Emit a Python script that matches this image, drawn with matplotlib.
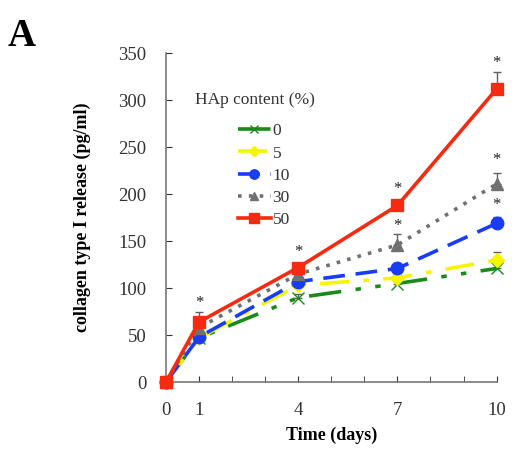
import matplotlib.pyplot as plt
from matplotlib.lines import Line2D

plt.rcParams['font.family'] = ['Liberation Serif', 'DejaVu Serif']

days = [0, 1, 4, 7, 10]
hap_labels = ["0", "5", "10", "30", "50"]

release_0 = [0, 47, 90, 105, 121]
release_5 = [0, 47, 103, 111, 130]
release_10 = [0, 48, 107, 121, 169]
release_30 = [0, 58, 115, 146, 211]
release_50 = [0, 64, 122, 188, 312]

err_0 = [0, 3, 4, 3, 4]
err_5 = [0, 3, 4, 4, 8]
err_10 = [0, 3, 4, 5, 7]
err_30 = [0, 5, 4, 12, 12]
err_50 = [0, 11, 4, 4, 18]

# significance marks: (day, height)
star_days = [1, 4, 7, 7, 10, 10, 10]
star_heights = [84, 139, 206, 166, 340, 236, 189]

series = [release_0, release_5, release_10, release_30, release_50]
errors = [err_0, err_5, err_10, err_30, err_50]
colors = ["#1a8a1a", "#f5f500", "#1a3cf5", "#707070", "#f52a10"]
markers = ["x", "D", "o", "^", "s"]
msizes = [8, 7, 9, 8, 9]
styles = [(0, (9, 4, 1.5, 4, 1.5, 4)), (0, (8, 4, 1.5, 4)), (0, (6, 3)),
          (0, (1, 2)), "-"]

fig = plt.figure(figsize=(5.12, 4.55), dpi=100)
ax = fig.add_axes([0.324, 0.160, 0.646, 0.723])

handles = []
for vals, err, c, m, ms, ls, lab in zip(series, errors, colors, markers,
                                        msizes, styles, hap_labels):
    ax.errorbar(days, vals, yerr=[[0] * len(err), err], color=c, marker=m,
                markersize=ms, linestyle=ls, linewidth=2.6,
                ecolor="#606060", elinewidth=1, capsize=3, clip_on=False,
                zorder=3)
    handles.append(Line2D([], [], color=c, marker=m, markersize=ms * 0.75,
                          linestyle=ls, linewidth=2.6, label=lab))

for d, h in zip(star_days, star_heights):
    ax.text(d, h, "*", ha="center", va="center", fontsize=12, color="#222222")

ax.set_xlim(0, 10)
ax.set_ylim(0, 350)
ax.set_xticks(days)
ax.set_xticks(range(0, 11), minor=True)
ax.set_yticks(range(0, 351, 50))
ax.tick_params(axis="both", which="both", labelsize=13.5, colors="#333333",
               length=4, direction="in")
ax.tick_params(axis="x", pad=14)
ax.tick_params(axis="y", pad=14)
for s in ["top", "right"]:
    ax.spines[s].set_visible(False)
for s in ["left", "bottom"]:
    ax.spines[s].set_color("#777777")
    ax.spines[s].set_linewidth(1.2)

ax.set_xlabel("Time (days)", fontsize=13, fontweight="bold", labelpad=6)
ax.set_ylabel("collagen type I release (pg/ml)", fontsize=13,
              fontweight="bold", labelpad=20)

fig.text(0.381, 0.78, "HAp content (%)", fontsize=12.5, color="#333333",
         va="center")
leg = ax.legend(handles=handles, loc="upper left",
                bbox_to_anchor=(0.17, 0.835), frameon=False, fontsize=12.5,
                handlelength=1.9, handletextpad=0.1, labelspacing=0.35)
for t in leg.get_texts():
    t.set_color("#333333")

fig.text(0.015, 0.9, "A", fontsize=28, fontweight="bold")

fig.savefig("out.png", dpi=100)
